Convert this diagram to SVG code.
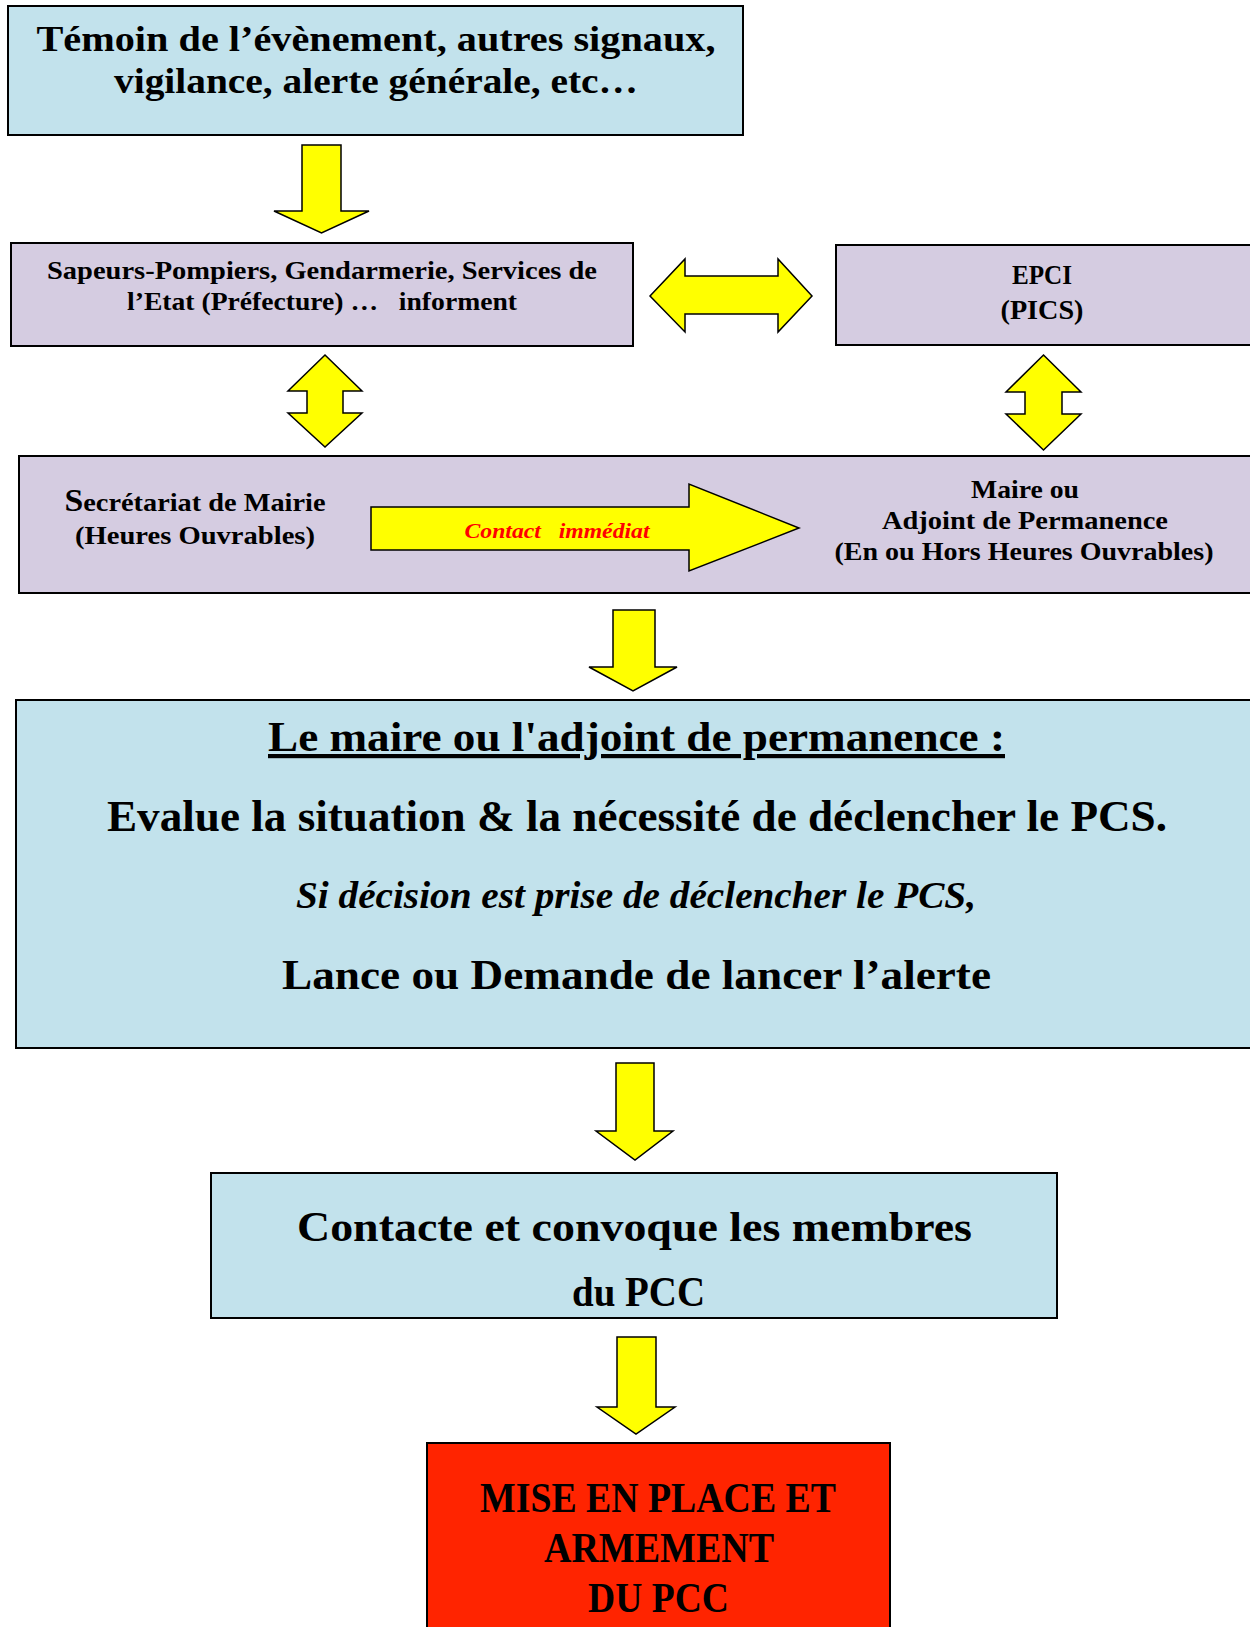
<svg xmlns="http://www.w3.org/2000/svg" width="1250" height="1627" viewBox="0 0 1250 1627">
<style>
.box{stroke:#000;stroke-width:2}
.blue{fill:#C2E2EC}
.lav{fill:#D5CCE1}
.red{fill:#FF2400}
.arr{fill:#FFFF00;stroke:#000;stroke-width:1.5;stroke-linejoin:miter}
text{font-family:"Liberation Serif","DejaVu Serif",serif;font-weight:bold;fill:#000;text-anchor:middle}
</style>
<rect width="1250" height="1627" fill="#fff"/>
<g id="connectors">
<polygon class="arr" points="302,145 341,145 341,211 369,211 321.5,233 274,211 302,211"/>
<polygon class="arr" points="650,296 685,259 685,276 778,276 778,259 812,296 778,332 778,314 685,314 685,332"/>
<polygon class="arr" points="325,355 362,391 343,391 343,413 362,413 325,447 288,413 307,413 307,391 288,391"/>
<polygon class="arr" points="1043.5,355 1081,392 1062,392 1062,414 1081,414 1043.5,450 1006,414 1025,414 1025,392 1006,392"/>
<polygon class="arr" points="613,610 655,610 655,667 677,667 633,691 589,667 613,667"/>
<polygon class="arr" points="616,1063 654,1063 654,1131 673,1131 635,1160 596,1131 616,1131"/>
<polygon class="arr" points="617,1337 656,1337 656,1407 675,1407 636,1434 597,1407 617,1407"/>
</g>
<g id="n1">
<rect class="box blue" x="8" y="6" width="735" height="129"/>
<text x="376" y="51" font-size="36" textLength="679" lengthAdjust="spacingAndGlyphs">Témoin de l’évènement, autres signaux,</text>
<text x="376" y="93" font-size="36" textLength="524" lengthAdjust="spacingAndGlyphs">vigilance, alerte générale, etc…</text>
</g>
<g id="n2">
<rect class="box lav" x="11" y="243" width="622" height="103"/>
<text x="322" y="279" font-size="25" textLength="550" lengthAdjust="spacingAndGlyphs">Sapeurs-Pompiers, Gendarmerie, Services de</text>
<text x="322" y="310" font-size="25" textLength="390" lengthAdjust="spacingAndGlyphs" xml:space="preserve">l’Etat (Préfecture) …   informent</text>
</g>
<g id="n3">
<rect class="box lav" x="836" y="245" width="416" height="100"/>
<text x="1042" y="284" font-size="27" textLength="60" lengthAdjust="spacingAndGlyphs">EPCI</text>
<text x="1042" y="319" font-size="27" textLength="83" lengthAdjust="spacingAndGlyphs">(PICS)</text>
</g>
<g id="n4">
<rect class="box lav" x="19" y="456" width="1233" height="137"/>
<text x="195" y="511" font-size="26" textLength="261" lengthAdjust="spacingAndGlyphs"><tspan font-size="31">S</tspan>ecrétariat de Mairie</text>
<text x="195" y="544" font-size="26" textLength="240" lengthAdjust="spacingAndGlyphs">(Heures Ouvrables)</text>
<polygon class="arr" points="371,507 689,507 689,484 799,528 689,571 689,550 371,550"/>
<text x="557" y="538" font-size="21" font-style="italic" style="fill:#FF0000" textLength="185" lengthAdjust="spacingAndGlyphs" xml:space="preserve">Contact   immédiat</text>
<text x="1025" y="498" font-size="25" textLength="108" lengthAdjust="spacingAndGlyphs">Maire ou</text>
<text x="1025" y="529" font-size="25" textLength="286" lengthAdjust="spacingAndGlyphs">Adjoint de Permanence</text>
<text x="1024" y="560" font-size="25" textLength="379" lengthAdjust="spacingAndGlyphs">(En ou Hors Heures Ouvrables)</text>
</g>
<g id="n5">
<rect class="box blue" x="16" y="700" width="1236" height="348"/>
<text x="636.5" y="751" font-size="42" text-decoration="underline" textLength="737" lengthAdjust="spacingAndGlyphs">Le maire ou l'adjoint de permanence :</text>
<text x="637" y="831" font-size="44" textLength="1060" lengthAdjust="spacingAndGlyphs">Evalue la situation &amp; la nécessité de déclencher le PCS.</text>
<text x="636" y="908" font-size="37" font-style="italic" textLength="680" lengthAdjust="spacingAndGlyphs">Si décision est prise de déclencher le PCS,</text>
<text x="636.5" y="989" font-size="43" textLength="709" lengthAdjust="spacingAndGlyphs">Lance ou Demande de lancer l’alerte</text>
</g>
<g id="n6">
<rect class="box blue" x="211" y="1173" width="846" height="145"/>
<text x="634.5" y="1241" font-size="43" textLength="675" lengthAdjust="spacingAndGlyphs">Contacte et convoque les membres</text>
<text x="638.5" y="1306" font-size="43" textLength="133" lengthAdjust="spacingAndGlyphs">du PCC</text>
</g>
<g id="n7">
<rect class="box red" x="427" y="1443" width="463" height="190"/>
<text x="658" y="1512" font-size="43" textLength="356" lengthAdjust="spacingAndGlyphs">MISE EN PLACE ET</text>
<text x="659" y="1562" font-size="43" textLength="230" lengthAdjust="spacingAndGlyphs">ARMEMENT</text>
<text x="658.5" y="1612" font-size="43" textLength="141" lengthAdjust="spacingAndGlyphs">DU PCC</text>
</g>
</svg>
